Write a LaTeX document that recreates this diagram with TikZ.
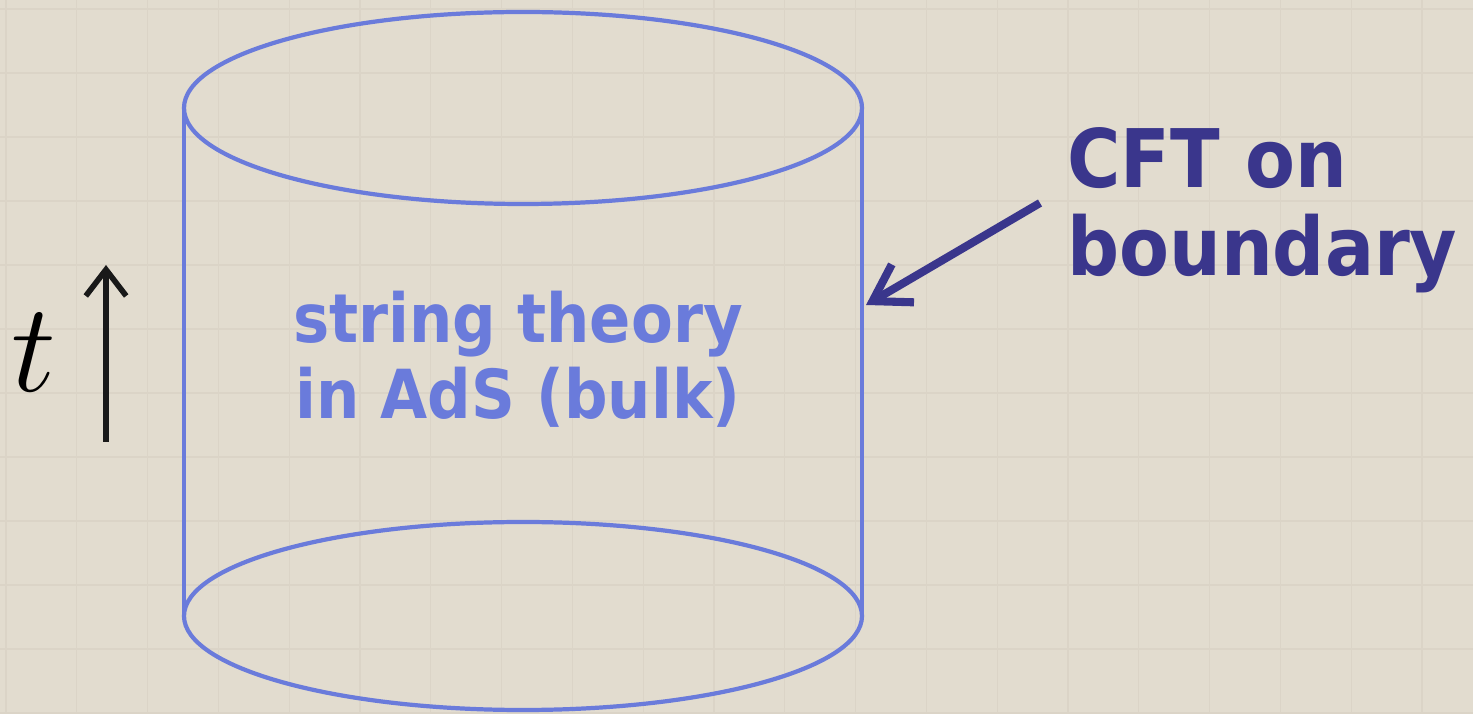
\RequirePackage{fix-cm}
\documentclass[tikz,border=0pt]{standalone}
\usepackage{fontspec}
\setsansfont{DejaVu Sans Condensed}
\usetikzlibrary{arrows.meta}
\definecolor{paper}{RGB}{226,220,207}
\definecolor{gridc}{RGB}{219,212,199}
\definecolor{bulkblue}{RGB}{106,123,219}
\definecolor{cftnavy}{RGB}{58,54,140}

\begin{document}
\begin{tikzpicture}[x=0.02cm,y=0.02cm,
    rim/.style={draw=bulkblue,line width=2.4pt},
    bulktext/.style={text=bulkblue,font=\sffamily\bfseries\fontsize{38.5}{43}\selectfont,align=center,inner sep=0pt},
    cfttext/.style={text=cftnavy,font=\sffamily\bfseries\fontsize{46}{50}\selectfont,align=left,inner sep=0pt},
    timearrow/.style={-{Straight Barb[length=15pt,width=23pt]},line width=3.2pt,black!90},
    cftarrow/.style={-{Straight Barb[length=20pt,width=25pt]},line width=4.6pt,cftnavy}]
    \useasboundingbox (0,0) rectangle (1473,713);
    \fill[paper] (0,0) rectangle (1473,713);
    \foreach \i in {0,...,20}
        \draw[gridc,line width=0.7pt] (6+70.8*\i,0) -- (6+70.8*\i,713);
    \foreach \j in {0,...,11}
        \draw[gridc,line width=0.7pt] (0,704-64*\j) -- (1473,704-64*\j);

    \draw[rim] (523,605) ellipse [x radius=339,y radius=96];
    \draw[rim] (523,97) ellipse [x radius=339,y radius=94];
    \draw[rim] (184,605) -- (184,97);
    \draw[rim] (862,605) -- (862,97);

    \node[bulktext,anchor=north] (bulk) at (518,422) {string theory\\in AdS (bulk)};
    \node[cfttext,anchor=north west] (cft) at (1067,586) {CFT on\\boundary};

    \node[inner sep=0pt,font=\fontsize{72}{76}\selectfont] (t) at (34,360) {$t$};
    \coordinate (tbot) at (106,271);
    \coordinate (ttop) at (106,448);
    \draw[timearrow] (tbot) -- (ttop);

    \coordinate (cftfoot) at (1040,510);
    \coordinate (wall) at (866,408);
    \draw[cftarrow] (cftfoot) -- (wall);
\end{tikzpicture}
\end{document}
